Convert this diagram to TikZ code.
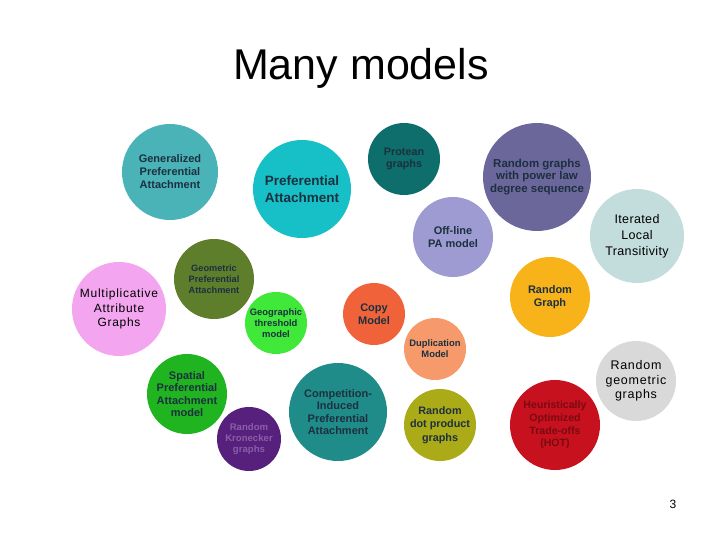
\documentclass[tikz,border=0pt]{standalone}
\usepackage{fontspec}
\setmainfont{Liberation Sans}
\newfontfamily\spacedfont[LetterSpace=6]{Liberation Sans}
\newfontfamily\lessspacedfont[LetterSpace=3]{Liberation Sans}
\newcommand\fsz[2]{\fontsize{#1}{#2}\selectfont}
\definecolor{txt}{HTML}{1C3040}
\definecolor{cGPA}{HTML}{4AB3B8}
\definecolor{cPA}{HTML}{17C0C6}
\definecolor{cPRO}{HTML}{0D6E6C}
\definecolor{cRPL}{HTML}{6B679B}
\definecolor{cOFF}{HTML}{9D9BD1}
\definecolor{cILT}{HTML}{C3DCDC}
\definecolor{cMAG}{HTML}{F3A6EF}
\definecolor{cGEPA}{HTML}{5F7E2C}
\definecolor{cGEO}{HTML}{40E83A}
\definecolor{cCOPY}{HTML}{F0633A}
\definecolor{cRG}{HTML}{F8B31A}
\definecolor{cDUP}{HTML}{F79A6B}
\definecolor{cSPA}{HTML}{20B420}
\definecolor{cKRON}{HTML}{56207C}
\definecolor{tKRON}{HTML}{8A5EA8}
\definecolor{cCIPA}{HTML}{1F8C8A}
\definecolor{cRDPG}{HTML}{ABAA17}
\definecolor{cHOT}{HTML}{C7111E}
\definecolor{tHOT}{HTML}{7A0A12}
\definecolor{cRGG}{HTML}{D9D9D9}
\begin{document}
\begin{tikzpicture}[x=1pt,y=-1pt,
  bub/.style={circle, inner sep=0pt, align=center, text=txt},
  plain/.style={circle, inner sep=0pt, align=center, text=black}]
\useasboundingbox (0,0) rectangle (720,540);
\node[font=\fsz{43}{50}] (title) at (361,68) {Many models};

\node[bub, fill=cGPA, minimum size=96, font=\bfseries\fsz{11}{13}] (gpa) at (170,172) {Generalized\\Preferential\\Attachment};
\node[bub, fill=cPA, minimum size=98, font=\bfseries\fsz{13.5}{16.5}] (pa) at (302,189) {Preferential\\Attachment};
\node[bub, fill=cPRO, minimum size=72, font=\bfseries\fsz{10.8}{12.5}] (protean) at (404,159) {Protean\\graphs};
\node[bub, fill=cRPL, minimum size=108, font=\bfseries\fsz{11.5}{12.5}] (rpl) at (537,177) {Random graphs\\with power law\\degree sequence};
\node[bub, fill=cOFF, minimum size=80, font=\bfseries\fsz{11}{13}] (off) at (453,237) {Off-line\\PA model};
\node[plain, fill=cILT, minimum size=94, font=\lessspacedfont\fsz{12.5}{16}] (ilt) at (637,236) {Iterated\\Local\\Transitivity};
\node[plain, fill=cMAG, minimum size=94, font=\spacedfont\fsz{12}{14.5}] (mag) at (119,309) {Multiplicative\\Attribute\\Graphs};
\node[bub, fill=cGEPA, minimum size=80, font=\bfseries\fsz{9.2}{10.8}] (gepa) at (214,279) {Geometric\\Preferential\\Attachment};
\node[bub, fill=cGEO, minimum size=62, font=\bfseries\fsz{9.4}{11.3}] (geo) at (276,323) {Geographic\\threshold\\model};
\node[bub, fill=cCOPY, minimum size=62, font=\bfseries\fsz{11}{12.5}] (copy) at (374,314) {Copy\\Model};
\node[bub, fill=cRG, minimum size=80, font=\bfseries\fsz{11}{12.5}] (rg) at (550,297) {Random\\Graph};
\node[bub, fill=cDUP, minimum size=62, font=\bfseries\fsz{9.4}{11}] (dup) at (435,349) {Duplication\\Model};
\node[bub, fill=cSPA, minimum size=80, font=\bfseries\fsz{11}{12.5}] (spa) at (187,394) {Spatial\\Preferential\\Attachment\\model};
\node[bub, fill=cKRON, text=tKRON, minimum size=64, font=\bfseries\fsz{9.6}{11}] (kron) at (249,439) {Random\\Kronecker\\graphs};
\node[bub, fill=cCIPA, minimum size=98, font=\bfseries\fsz{11}{12.3}] (cipa) at (338,412) {Competition-\\Induced\\Preferential\\Attachment};
\node[bub, fill=cRDPG, minimum size=72, font=\bfseries\fsz{10.8}{13.3}] (rdpg) at (440,425) {Random\\dot product\\graphs};
\node[bub, fill=cHOT, text=tHOT, minimum size=90, font=\bfseries\fsz{10.6}{12.6}] (hot) at (555,425) {Heuristically\\Optimized\\Trade-offs\\(HOT)};
\node[plain, fill=cRGG, minimum size=80, font=\spacedfont\fsz{12.5}{14.5}] (rgg) at (636,381) {Random\\geometric\\graphs};

\node[font=\fsz{12}{14}] (page) at (673,504) {3};
\end{tikzpicture}
\end{document}
